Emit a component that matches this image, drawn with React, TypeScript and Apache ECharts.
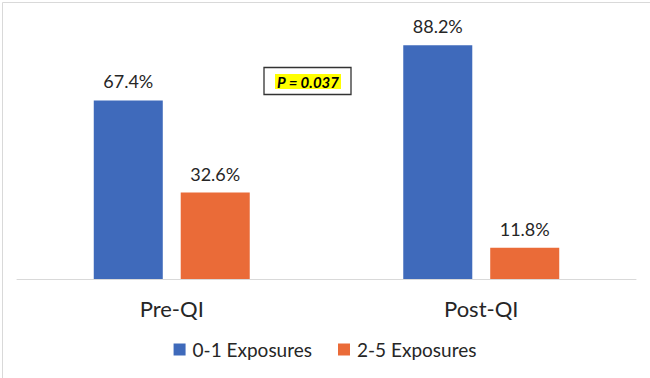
import React, { useEffect, useRef } from "react";
import * as echarts from "echarts";

const categories = ["Pre-QI", "Post-QI"];
const seriesNames = ["0-1 Exposures", "2-5 Exposures"];
const lowExposure = [67.4, 88.2];
const highExposure = [32.6, 11.8];
const pValueText = "P = 0.037";

const FONT = "Lato, 'Open Sans', sans-serif";

export default function App() {
  const ref = useRef<HTMLDivElement>(null);
  useEffect(() => {
    if (!ref.current) return;
    const chart = echarts.init(ref.current, null, { renderer: "svg" });
    const label = {
      show: true,
      position: "top" as const,
      distance: 10,
      color: "#262626",
      fontSize: 18,
      fontFamily: FONT,
      formatter: (p: any) => `${p.value.toFixed(1)}%`,
    };
    chart.setOption({
      animation: false,
      backgroundColor: "#ffffff",
      grid: { left: 17, right: 14, top: 14, bottom: 99, containLabel: false },
      xAxis: {
        type: "category",
        data: categories,
        axisLine: { lineStyle: { color: "#d9d9d9", width: 1 } },
        axisTick: { show: false },
        axisLabel: { color: "#262626", fontSize: 22, fontFamily: FONT, margin: 18 },
      },
      yAxis: {
        type: "value",
        min: 0,
        max: 100,
        show: false,
        splitLine: { show: false },
      },
      legend: {
        bottom: 14,
        left: "center",
        itemWidth: 12,
        itemHeight: 12,
        itemGap: 26,
        icon: "rect",
        textStyle: { color: "#262626", fontSize: 19, fontFamily: FONT, padding: [0, 0, 0, 2] },
        data: seriesNames,
      },
      series: [
        {
          name: seriesNames[0],
          type: "bar",
          data: lowExposure,
          itemStyle: { color: "#3F6ABB" },
          barWidth: "22.3%",
          barGap: "26%",
          label,
        },
        {
          name: seriesNames[1],
          type: "bar",
          data: highExposure,
          itemStyle: { color: "#EA6B38" },
          barWidth: "22.3%",
          label,
        },
      ],
      graphic: [
        {
          type: "rect",
          left: 0,
          top: 0,
          shape: { x: 0.5, y: 0.5, width: 648, height: 376 },
          style: { fill: "none", stroke: "#d9d9d9", lineWidth: 1 },
          silent: true,
        },
        {
          type: "rect",
          shape: { x: 264, y: 67.5, width: 87, height: 27 },
          style: { fill: "#ffffff", stroke: "#333333", lineWidth: 1.3 },
        },
        {
          type: "rect",
          shape: { x: 275, y: 74, width: 66, height: 15 },
          style: { fill: "#ffff00" },
        },
        {
          type: "text",
          x: 308,
          y: 82,
          style: {
            text: pValueText,
            fontSize: 15,
            fontWeight: "bold",
            fontStyle: "italic",
            fontFamily: FONT,
            fill: "#000000",
            align: "center",
            verticalAlign: "middle",
          },
        },
      ],
    });
    return () => chart.dispose();
  }, []);
  return (
    <div
      ref={ref}
      style={{ position: "fixed", left: 0, top: 0, width: 650, height: 378 }}
    />
  );
}
